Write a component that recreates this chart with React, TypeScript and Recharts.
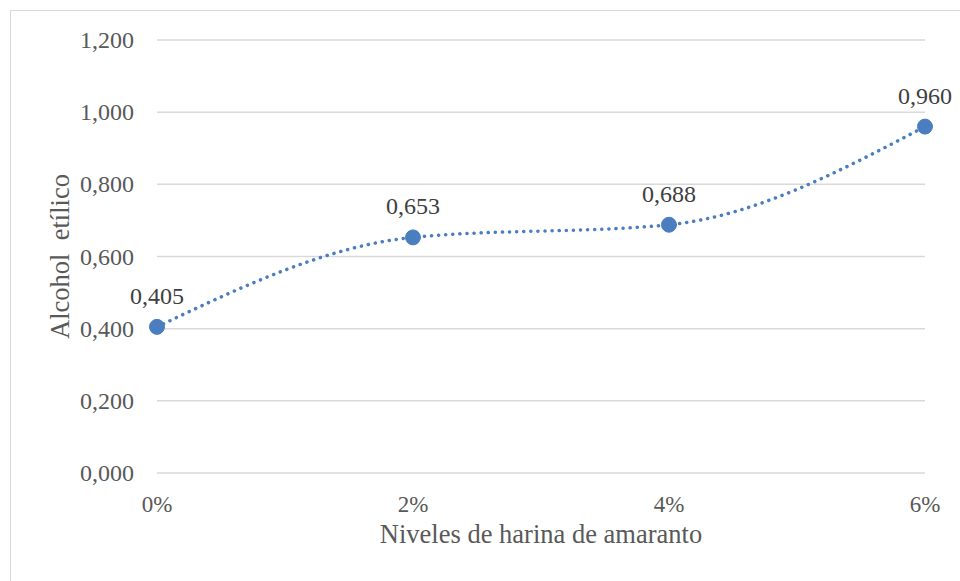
import { LineChart, Line, XAxis, YAxis, CartesianGrid, LabelList } from 'recharts'

const levels = ['0%', '2%', '4%', '6%']
const alcohol = [0.405, 0.653, 0.688, 0.96]
const yTicks = [0, 0.2, 0.4, 0.6, 0.8, 1.0, 1.2]

const data = levels.map((level, i) => ({ level, alcohol: alcohol[i] }))

const fmt = (v: number) => v.toFixed(3).replace('.', ',')
const font = '"Liberation Serif", "Times New Roman", serif'

// ticks drawn by hand so the serif font sticks
const XTick = (props: any) => {
  const { x, y, payload } = props
  return (
    <text x={x} y={y + 37} textAnchor="middle" fill="#595959" style={{ fontFamily: font, fontSize: 23 }}>
      {payload.value}
    </text>
  )
}

const YTick = (props: any) => {
  const { x, y, payload } = props
  return (
    <text x={x - 21} y={y + 8} textAnchor="end" fill="#595959" style={{ fontFamily: font, fontSize: 24 }}>
      {fmt(payload.value)}
    </text>
  )
}

const PointLabel = (props: any) => {
  const { x, y, value } = props
  return (
    <text x={x} y={y - 23} textAnchor="middle" fill="#404040" style={{ fontFamily: font, fontSize: 24 }}>
      {fmt(Number(value))}
    </text>
  )
}

export default function App() {
  return (
    <div style={{ position: 'absolute', top: 0, left: 0, width: 960, height: 581, background: '#fff', overflow: 'hidden', fontFamily: font }}>
      <div
        style={{
          position: 'absolute',
          left: 10,
          top: 10,
          width: 960,
          height: 581,
          borderTop: '1.5px solid #d9d9d9',
          borderLeft: '1.5px solid #d9d9d9',
        }}
      />
      <div style={{ position: 'absolute', top: 0, left: 0 }}>
        <LineChart
          width={960}
          height={581}
          data={data}
          margin={{ top: 40, right: 35, left: 10, bottom: 10 }}
        >
          <CartesianGrid vertical={false} stroke="#d9d9d9" strokeWidth={1.5} />
          <XAxis
            dataKey="level"
            height={98}
            axisLine={false}
            tickLine={false}
            tickSize={0}
            tick={<XTick />}
            label={{
              value: 'Niveles de harina de amaranto',
              position: 'insideBottom',
              offset: 28,
              fill: '#595959',
              fontSize: 26.5,
              fontFamily: font,
            }}
          />
          <YAxis
            width={147}
            domain={[0, 1.2]}
            ticks={yTicks}
            axisLine={false}
            tickLine={false}
            tickSize={0}
            tick={<YTick />}
            label={{
              value: 'Alcohol\u00a0 etílico',
              angle: -90,
              position: 'insideLeft',
              offset: 50,
              fill: '#595959',
              fontSize: 26.5,
              fontFamily: font,
              style: { textAnchor: 'middle' },
            }}
          />
          <Line
            type="monotone"
            dataKey="alcohol"
            stroke="#4a7ebf"
            strokeWidth={3.5}
            strokeDasharray="0.1 7"
            strokeLinecap="round"
            dot={{ r: 7.5, fill: '#4a7ebf', stroke: '#4a7ebf', strokeWidth: 1, strokeDasharray: '' }}
            activeDot={false}
            isAnimationActive={false}
          >
            <LabelList dataKey="alcohol" content={<PointLabel />} />
          </Line>
        </LineChart>
      </div>
    </div>
  )
}
